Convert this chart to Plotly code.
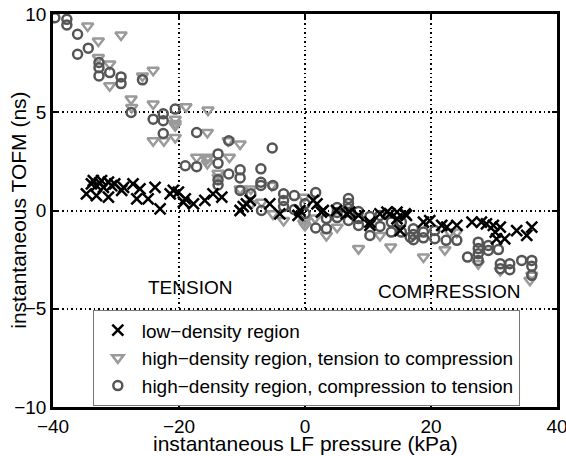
import plotly.graph_objects as go

# low-density region (x markers)
low_x = [-34.7, -33.9, -33.6, -33.1, -33.1, -32.6, -32.3, -32.0, -31.2, -31.2, -30.7, -30.2,
         -29.1, -28.8, -27.3, -26.7, -26.2, -24.9, -23.8, -23.0, -21.4, -20.9, -20.1, -19.3,
         -19.0, -17.7, -15.9, -14.6, -13.2, -10.3, -9.8, -9.3, -8.7, -5.6, -4.0, -1.1, -0.8,
         1.3, 1.9, 2.6, 2.9, 5.0, 6.6, 7.1, 8.5, 10.3, 10.3, 11.9, 13.0, 13.5, 14.6, 14.6,
         15.1, 15.9, 16.1, 18.8, 19.8, 21.7, 22.5, 24.1, 26.5, 28.0, 28.8, 29.9, 31.0, 30.2,
         30.4, 31.7, 33.6, 35.2, 36.0]
low_y = [0.85, 1.36, 1.52, 1.27, 0.76, 1.40, 1.52, 1.18, 1.44, 0.68, 1.27, 1.36,
         1.02, 1.18, 1.36, 0.59, 1.10, 0.59, 1.18, 0.08, 0.85, 1.02, 0.93, 0.42,
         0.59, 0.34, 0.51, 0.85, 0.68, 0.00, 0.20, 0.34, 0.51, 0.34, -0.17, -0.25, 0.00,
         0.51, 0.34, -0.08, 0.00, 0.00, -0.17, -0.08, -0.25, -0.59, -0.76, -0.17, -0.08, -0.17, -0.08, -0.42,
         -1.02, -0.17, -0.25, -0.59, -0.51, -0.76, -0.85, -0.76, -0.59, -0.59, -0.68, -0.76, -0.85, -1.10,
         -1.44, -1.44, -1.02, -1.27, -0.85]

# high-density region, tension to compression (triangles)
t2c_x = [-34.5, -32.8, -29.2, -32.8, -31.0, -31.0, -25.8, -24.1, -27.6, -27.5, -24.1, -24.1,
         -22.4, -20.6, -20.6, -20.6, -20.6, -18.9, -15.4, -15.5, -12.2, -10.3, -17.2, -15.4,
         -12.0, -15.6, -15.5, -13.8, -13.8, -10.3, -8.6, -5.3, -6.9, -8.5, -5.1, -3.4, -0.2,
         -0.2, 0.0, 0.0, 1.6, 3.4, 5.1, 8.5, 11.9, 13.6, 18.8, 22.2, 24.1, 23.0, 27.5, 31.0,
         36.0, 35.7]
t2c_y = [9.39, 8.63, 8.93, 7.78, 7.45, 6.35, 6.85, 7.14, 5.67, 5.24, 5.42, 3.55,
         3.55, 3.72, 4.65, 4.43, 4.31, 5.28, 5.11, 3.97, 3.55, 3.39, 2.71, 2.71,
         2.71, 2.62, 2.40, 1.89, 1.69, 1.10, 1.10, 1.27, 0.42, 0.34, -0.17, -0.51, 0.68,
         -0.64, -0.51, -0.76, -0.38, -1.27, -0.85, -1.94, -1.27, -1.86, -2.37, -2.00, -1.10, -1.10, -2.71, -3.05,
         -3.30, -3.55]

# high-density region, compression to tension (circles)
c2t_x = [-39.7, -37.8, -37.8, -36.1, -34.4, -36.1, -32.7, -32.7, -32.7, -31.0, -29.2, -29.2,
         -25.8, -27.6, -24.1, -22.5, -22.5, -20.6, -22.5, -17.2, -12.1, -5.2, -19.0, -17.2,
         -13.8, -13.8, -12.1, -13.8, -13.8, -10.3, -10.3, -10.3, -7.0, -7.0, -7.0, -5.1, -8.6,
         -6.9, -3.4, -3.4, -3.4, -1.7, -1.7, 0.0, 0.0, 1.7, 1.7, 3.4, 3.4, 5.1, 5.1, 5.1,
         6.9, 6.9, 6.9, 6.9, 8.5, 8.5, 8.5, 10.3, 10.3, 11.9, 11.9, 13.7, 13.7, 15.3, 15.3,
         16.7, 17.2, 17.2, 17.2, 18.8, 18.8, 20.6, 20.6, 22.4, 24.1, 27.5, 27.5, 27.5, 25.8,
         27.5, 29.1, 29.1, 30.7, 31.0, 31.0, 32.5, 32.5, 34.4, 36.0, 36.0, 36.0]
c2t_y = [9.81, 9.73, 9.44, 8.97, 8.26, 7.95, 7.53, 7.27, 6.85, 7.02, 6.80, 6.46,
         6.65, 4.99, 4.65, 4.92, 4.57, 5.16, 3.92, 3.97, 3.55, 3.18, 2.28, 2.23,
         2.88, 2.40, 1.86, 1.56, 1.30, 2.07, 1.66, 1.02, 2.12, 1.44, 1.27, 1.27, 0.85,
         0.00, 0.85, 0.51, 0.20, 0.76, 0.05, 0.34, -0.15, 0.91, -0.89, -0.41, -0.93, 0.15, -0.10, -0.36,
         0.61, 0.36, 0.10, -0.51, -0.05, -0.41, -0.76, -0.30, -1.27, -0.25, -0.81, -0.59, -1.10, -0.59, -1.10,
         -1.36, -0.93, -1.22, -1.49, -1.10, -1.39, -1.02, -1.44, -1.52, -1.52, -1.61, -1.94, -2.20, -2.37,
         -2.54, -1.78, -2.03, -1.99, -2.71, -2.96, -2.71, -3.01, -2.54, -2.54, -2.84, -3.30]

x_ticks = [-40, -20, 0, 20, 40]
y_ticks = [-10, -5, 0, 5, 10]

FONT = "Liberation Sans, Arial, sans-serif"

fig = go.Figure()
fig.add_trace(go.Scatter(
    x=t2c_x, y=t2c_y, mode="markers", name="high−density region, tension to compression",
    legendrank=2,
    marker=dict(symbol="triangle-down-open", size=10, color="#9a9a9a", line=dict(width=2.5)),
))
fig.add_trace(go.Scatter(
    x=c2t_x, y=c2t_y, mode="markers", name="high−density region, compression to tension",
    legendrank=3,
    marker=dict(symbol="circle-open", size=9, color="#555555", line=dict(width=2.5)),
))
fig.add_trace(go.Scatter(
    x=low_x, y=low_y, mode="markers", name="low−density region",
    legendrank=1,
    marker=dict(symbol="x-thin-open", size=11, color="black", line=dict(width=2.5, color="black")),
))

axis_common = dict(
    showline=True, linewidth=2.5, linecolor="black", mirror="ticks",
    ticks="inside", ticklen=5, tickwidth=2, tickcolor="black",
    showgrid=True, gridcolor="black", gridwidth=1.5, griddash="1.5px,3px",
    zeroline=False, tickfont=dict(size=19, color="black", family=FONT),
    ticklabeloverflow="allow",
)

fig.update_xaxes(range=[-40, 40], tickvals=x_ticks,
                 ticktext=[str(v).replace("-", "−") for v in x_ticks], **axis_common)
fig.update_yaxes(range=[-10, 10], tickvals=y_ticks,
                 ticktext=[str(v).replace("-", "−") for v in y_ticks], **axis_common)

title_font = dict(size=21, color="black", family=FONT)
# axis titles as annotations so they can sit as tight as in the original
fig.add_annotation(xref="paper", yref="paper", x=0.5, y=-0.093, text="instantaneous LF pressure (kPa)",
                   showarrow=False, xanchor="center", yanchor="middle", font=title_font)
fig.add_annotation(xref="paper", yref="paper", x=-0.069, y=0.5, text="instantaneous TOFM (ns)",
                   showarrow=False, xanchor="center", yanchor="middle", textangle=-90, font=title_font)

fig.add_annotation(x=-18.3, y=-3.9, text="TENSION", showarrow=False, xanchor="center", yanchor="middle",
                   font=dict(size=19, color="black", family=FONT))
fig.add_annotation(x=23.0, y=-4.1, text="COMPRESSION", showarrow=False, xanchor="center", yanchor="middle",
                   font=dict(size=19, color="black", family=FONT))

fig.update_layout(
    width=566, height=456,
    margin=dict(l=53, r=9, t=14, b=49, autoexpand=False),
    plot_bgcolor="white", paper_bgcolor="white",
    font=dict(family=FONT, color="black", size=19),
    legend=dict(
        x=0.079, y=0.246, xanchor="left", yanchor="top",
        bgcolor="white", bordercolor="#777777", borderwidth=1,
        font=dict(size=19, color="black", family=FONT),
        itemwidth=38, tracegroupgap=0,
    ),
)

# drop the default 8px page margin so the figure sits at the window's corner
fig.write_html("out.html", config={"displayModeBar": False},
               post_script="document.body.style.margin='0';")
